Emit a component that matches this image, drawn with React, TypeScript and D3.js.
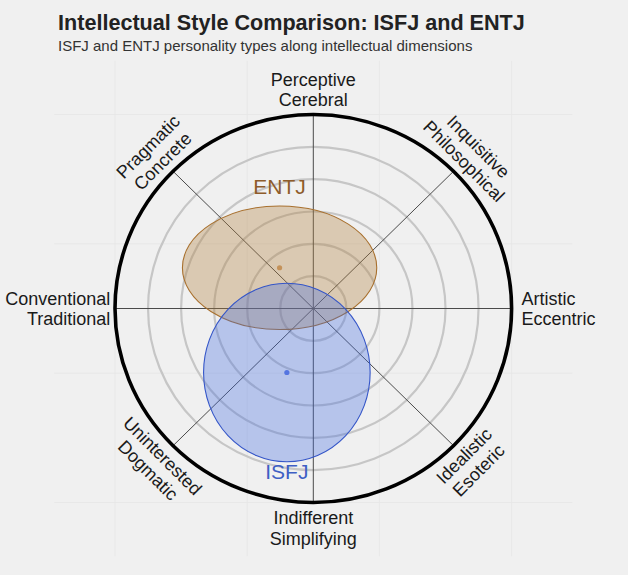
import React from "react";
import * as d3 from "d3";

// ---- data ----
const types = ["ENTJ", "ISFJ"];
const centerX = [-0.51, -0.4];
const centerY = [0.63, -0.99];
const radiusX = [1.47, 1.26];
const radiusY = [0.955, 1.38];
const fillColors = ["#b38040", "#4169e1"];
const strokeColors = ["#a8702e", "#3556c8"];
const labelColors = ["#8e5c2a", "#3f5fc4"];
const dotColors = ["#c4925a", "#5575e0"];

const gridRadii = [0.5, 1, 1.5, 2, 2.5];
const outerRadius = 3;
const axisAngles = [0, 45, 90, 135];
const bgGrid = [-3, -1, 1, 3];

const labelTop = ["Perceptive", "Cerebral"];
const labelBottom = ["Indifferent", "Simplifying"];
const labelLeft = ["Conventional", "Traditional"];
const labelRight = ["Artistic", "Eccentric"];
const labelTopLeft = ["Pragmatic", "Concrete"];
const labelTopRight = ["Inquisitive", "Philosophical"];
const labelBottomLeft = ["Uninterested", "Dogmatic"];
const labelBottomRight = ["Idealistic", "Esoteric"];

const W = 628;
const H = 575;
const FONT = "'Liberation Sans', Arial, Helvetica, sans-serif";

export default function App() {
  const cx0 = 313.3;
  const cy0 = 308.5;
  const x = d3.scaleLinear().domain([-3, 3]).range([cx0 - 198.3, cx0 + 198.3]);
  const y = d3.scaleLinear().domain([-3, 3]).range([cy0 + 194, cy0 - 194]);
  const rx = (r: number) => x(r) - x(0);
  const ry = (r: number) => y(0) - y(r);

  const panelX0 = x(-3.92);
  const panelX1 = x(3.92);
  const panelY0 = y(3.83);
  const panelY1 = y(-3.83);

  const lr = 3.38;
  const d45 = lr / Math.SQRT2;

  const twoLine = (
    lines: string[],
    px: number,
    py: number,
    rot: number,
    anchor: string = "middle"
  ) => (
    <text
      transform={`translate(${px},${py}) rotate(${rot})`}
      textAnchor={anchor}
      fontFamily={FONT}
      fontSize={18}
      fill="#1a1a1a"
    >
      <tspan x={0} y={-10} dominantBaseline="central">
        {lines[0]}
      </tspan>
      <tspan x={0} y={10.5} dominantBaseline="central">
        {lines[1]}
      </tspan>
    </text>
  );

  return (
    <svg
      width={W}
      height={H}
      style={{ position: "absolute", left: 0, top: 0, background: "#f0f0f0" }}
    >
      <rect x={0} y={0} width={W} height={H} fill="#f0f0f0" />
      {/* faint background grid */}
      <g stroke="#e6e6e6" strokeWidth={0.8}>
        {bgGrid.map((v) => (
          <line key={"v" + v} x1={x(v)} x2={x(v)} y1={panelY0} y2={panelY1} />
        ))}
        {bgGrid.map((v) => (
          <line key={"h" + v} x1={panelX0} x2={panelX1} y1={y(v)} y2={y(v)} />
        ))}
      </g>

      {/* title */}
      <text x={58} y={30} fontFamily={FONT} fontSize={21.6} fontWeight="bold" fill="#222">
        Intellectual Style Comparison: ISFJ and ENTJ
      </text>
      <text x={58} y={51} fontFamily={FONT} fontSize={15} fill="#333">
        ISFJ and ENTJ personality types along intellectual dimensions
      </text>

      {/* grey rings */}
      {gridRadii.map((r) => (
        <ellipse
          key={r}
          cx={x(0)}
          cy={y(0)}
          rx={rx(r)}
          ry={ry(r)}
          fill="none"
          stroke="#c6c6c6"
          strokeWidth={2.2}
        />
      ))}

      {/* axes */}
      {axisAngles.map((a) => {
        const t = (a * Math.PI) / 180;
        return (
          <line
            key={a}
            x1={x(outerRadius * Math.cos(t))}
            y1={y(outerRadius * Math.sin(t))}
            x2={x(-outerRadius * Math.cos(t))}
            y2={y(-outerRadius * Math.sin(t))}
            stroke="#4a4a4a"
            strokeWidth={1}
          />
        );
      })}

      {/* type ellipses */}
      {types.map((t, i) => (
        <g key={t}>
          <ellipse
            cx={x(centerX[i])}
            cy={y(centerY[i])}
            rx={rx(radiusX[i])}
            ry={ry(radiusY[i])}
            fill={fillColors[i]}
            fillOpacity={i === 0 ? 0.35 : 0.33}
            stroke={strokeColors[i]}
            strokeWidth={1.1}
          />
          <circle cx={x(centerX[i])} cy={y(centerY[i])} r={2.6} fill={dotColors[i]} />
        </g>
      ))}

      {/* type labels */}
      <text
        x={x(centerX[0])}
        y={y(centerY[0] + radiusY[0]) - 20}
        textAnchor="middle"
        dominantBaseline="central"
        fontFamily={FONT}
        fontSize={21}
        fill={labelColors[0]}
      >
        {types[0]}
      </text>
      <text
        x={x(centerX[1])}
        y={y(centerY[1] - radiusY[1]) + 9.5}
        textAnchor="middle"
        dominantBaseline="central"
        fontFamily={FONT}
        fontSize={21}
        fill={labelColors[1]}
      >
        {types[1]}
      </text>

      {/* outer ring */}
      <ellipse
        cx={x(0)}
        cy={y(0)}
        rx={rx(outerRadius)}
        ry={ry(outerRadius)}
        fill="none"
        stroke="#000"
        strokeWidth={3.6}
      />

      {/* axis labels */}
      {twoLine(labelTop, x(0), y(lr), 0)}
      {twoLine(labelBottom, x(0), y(-lr) + 1, 0)}
      {twoLine(labelLeft, x(-3.07), y(0), 0, "end")}
      {twoLine(labelRight, x(3.15), y(0), 0, "start")}
      {twoLine(labelTopLeft, x(-d45), y(d45), -45)}
      {twoLine(labelTopRight, x(d45), y(d45), 45)}
      {twoLine(labelBottomLeft, x(-d45), y(-d45), 45)}
      {twoLine(labelBottomRight, x(d45), y(-d45), -45)}
    </svg>
  );
}
